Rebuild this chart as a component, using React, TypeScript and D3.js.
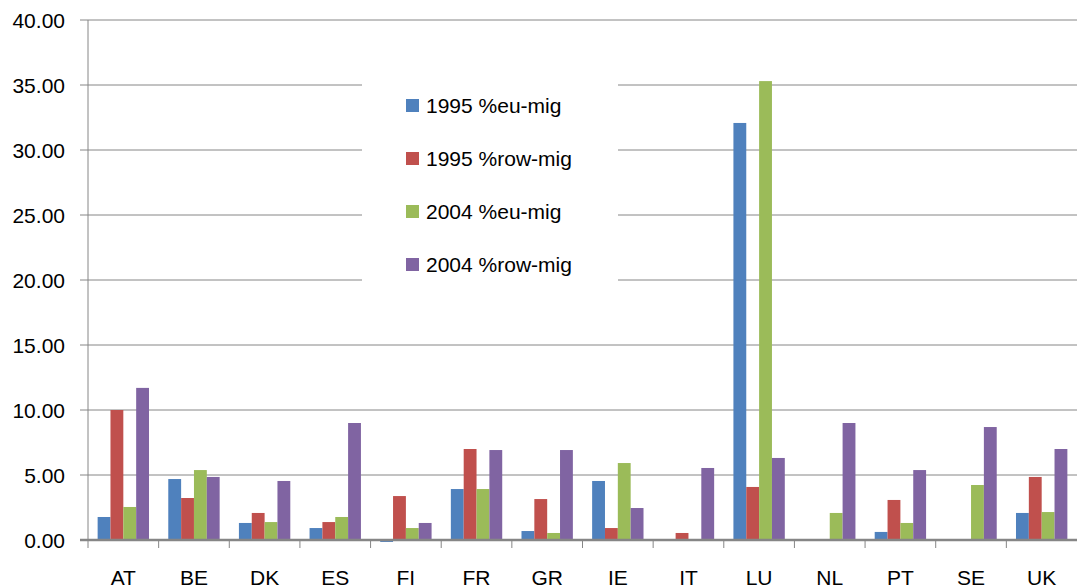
import React from "react";
import * as d3 from "d3";

const categories = ["AT", "BE", "DK", "ES", "FI", "FR", "GR", "IE", "IT", "LU", "NL", "PT", "SE", "UK"];
const seriesNames = ["1995 %eu-mig", "1995 %row-mig", "2004 %eu-mig", "2004 %row-mig"];
const eu1995 = [1.77, 4.69, 1.31, 0.92, -0.15, 3.92, 0.69, 4.54, 0, 32.08, 0, 0.62, 0, 2.08];
const row1995 = [10.0, 3.23, 2.08, 1.38, 3.38, 7.0, 3.15, 0.92, 0.54, 4.08, 0, 3.08, 0, 4.85];
const eu2004 = [2.54, 5.38, 1.38, 1.77, 0.92, 3.92, 0.54, 5.92, 0, 35.3, 2.08, 1.31, 4.23, 2.15];
const row2004 = [11.7, 4.85, 4.54, 9.0, 1.31, 6.92, 6.92, 2.46, 5.54, 6.31, 9.0, 5.38, 8.69, 7.0];
const yTicks = [0, 5, 10, 15, 20, 25, 30, 35, 40];
const colors = ["#4F81BD", "#C0504D", "#9BBB59", "#8064A2"];

const W = 1077;
const H = 588;
const left = 88;
const right = 1077;
const top = 20;
const bottom = 540;
const FONT = "'Liberation Sans', Arial, sans-serif";

export default function App() {
  const seriesValues = [eu1995, row1995, eu2004, row2004];
  const y = d3.scaleLinear().domain([0, 40]).range([bottom, top]);
  const x0 = d3.scaleBand<string>().domain(categories).range([left, right]).paddingInner(0).paddingOuter(0);
  const x1 = d3
    .scaleBand<string>()
    .domain(seriesNames)
    .range([0, x0.bandwidth()])
    .paddingInner(0)
    .paddingOuter(0.75);
  const grid = "#868686";

  return (
    <svg
      width={W}
      height={H}
      style={{ position: "absolute", left: 0, top: 0, display: "block", background: "#fff" }}
      fontFamily={FONT}
    >
      {/* gridlines */}
      {yTicks.map((t) =>
        t === 0 ? null : (
          <line key={"g" + t} x1={left - 8} x2={right} y1={y(t)} y2={y(t)} stroke={grid} strokeWidth={1} />
        )
      )}
      {/* y tick labels */}
      {yTicks.map((t) => (
        <text key={"yl" + t} x={65} y={y(t) + 7.5} textAnchor="end" fontSize={21} fill="#000">
          {t.toFixed(2)}
        </text>
      ))}
      {/* bars */}
      {categories.map((c, i) => (
        <g key={c} transform={`translate(${x0(c)},0)`}>
          {seriesNames.map((s, k) => {
            const v = seriesValues[k][i];
            if (v === 0) return null;
            const y0 = y(0);
            const yv = y(v);
            return (
              <rect
                key={s}
                x={x1(s)}
                width={x1.bandwidth()}
                y={Math.min(y0, yv)}
                height={Math.abs(y0 - yv)}
                fill={colors[k]}
              />
            );
          })}
        </g>
      ))}
      {/* y axis line */}
      <line x1={left} x2={left} y1={top} y2={bottom} stroke={grid} strokeWidth={1} />
      {/* x axis line */}
      <line x1={left - 8} x2={right} y1={y(0)} y2={y(0)} stroke={grid} strokeWidth={2.5} />
      {/* x ticks */}
      {categories.map((c) => (
        <line key={"t" + c} x1={x0(c)} x2={x0(c)} y1={bottom} y2={bottom + 8} stroke={grid} strokeWidth={1} />
      ))}
      {/* category labels */}
      {categories.map((c) => (
        <text
          key={"cl" + c}
          x={(x0(c) as number) + x0.bandwidth() / 2}
          y={585}
          textAnchor="middle"
          fontSize={21}
          fill="#000"
        >
          {c}
        </text>
      ))}
      {/* legend */}
      <rect x={362} y={50} width={256} height={270} fill="#fff" />
      {seriesNames.map((s, k) => {
        const cy = 105.5 + k * 53;
        return (
          <g key={"lg" + s}>
            <rect x={406} y={cy - 6.5} width={13} height={13} fill={colors[k]} />
            <text x={426} y={cy + 7.5} fontSize={21} fill="#000">
              {s}
            </text>
          </g>
        );
      })}
    </svg>
  );
}
